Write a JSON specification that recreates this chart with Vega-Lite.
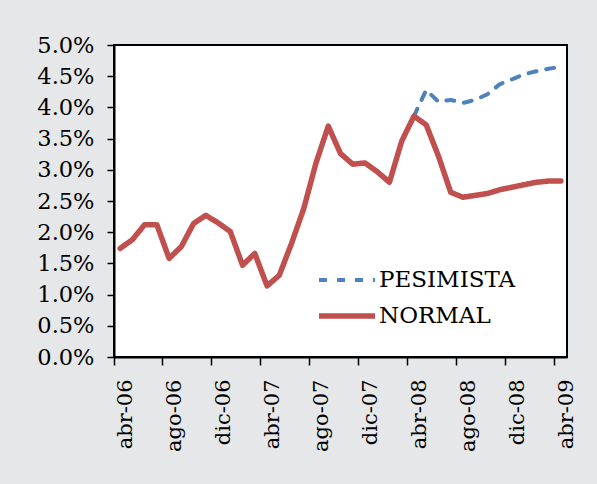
{
  "$schema": "https://vega.github.io/schema/vega-lite/v6.json",
  "width": 453,
  "height": 312,
  "autosize": {"type": "none"},
  "padding": {"left": 114, "top": 45, "right": 30, "bottom": 127},
  "background": "#e6e7e9",
  "config": {
    "view": {"stroke": "black", "strokeWidth": 2, "fill": "white"},
    "font": "DejaVu Serif"
  },
  "data": {"values": [
    {"m":"abr-08","s":"PESIMISTA","v":0.0386},
    {"m":"may-08","s":"PESIMISTA","v":0.0428},
    {"m":"jun-08","s":"PESIMISTA","v":0.0409},
    {"m":"jul-08","s":"PESIMISTA","v":0.0412},
    {"m":"ago-08","s":"PESIMISTA","v":0.0407},
    {"m":"sep-08","s":"PESIMISTA","v":0.0412},
    {"m":"oct-08","s":"PESIMISTA","v":0.0421},
    {"m":"nov-08","s":"PESIMISTA","v":0.0437},
    {"m":"dic-08","s":"PESIMISTA","v":0.0445},
    {"m":"ene-09","s":"PESIMISTA","v":0.0453},
    {"m":"feb-09","s":"PESIMISTA","v":0.0458},
    {"m":"mar-09","s":"PESIMISTA","v":0.0462},
    {"m":"abr-09","s":"PESIMISTA","v":0.0465},
    {"m":"abr-06","s":"NORMAL","v":0.0174},
    {"m":"may-06","s":"NORMAL","v":0.0188},
    {"m":"jun-06","s":"NORMAL","v":0.0212},
    {"m":"jul-06","s":"NORMAL","v":0.0212},
    {"m":"ago-06","s":"NORMAL","v":0.0158},
    {"m":"sep-06","s":"NORMAL","v":0.0177},
    {"m":"oct-06","s":"NORMAL","v":0.0214},
    {"m":"nov-06","s":"NORMAL","v":0.0227},
    {"m":"dic-06","s":"NORMAL","v":0.0215},
    {"m":"ene-07","s":"NORMAL","v":0.0201},
    {"m":"feb-07","s":"NORMAL","v":0.0147},
    {"m":"mar-07","s":"NORMAL","v":0.0166},
    {"m":"abr-07","s":"NORMAL","v":0.0114},
    {"m":"may-07","s":"NORMAL","v":0.0131},
    {"m":"jun-07","s":"NORMAL","v":0.0182},
    {"m":"jul-07","s":"NORMAL","v":0.0238},
    {"m":"ago-07","s":"NORMAL","v":0.0311},
    {"m":"sep-07","s":"NORMAL","v":0.0370},
    {"m":"oct-07","s":"NORMAL","v":0.0326},
    {"m":"nov-07","s":"NORMAL","v":0.0309},
    {"m":"dic-07","s":"NORMAL","v":0.0311},
    {"m":"ene-08","s":"NORMAL","v":0.0297},
    {"m":"feb-08","s":"NORMAL","v":0.0280},
    {"m":"mar-08","s":"NORMAL","v":0.0346},
    {"m":"abr-08","s":"NORMAL","v":0.0386},
    {"m":"may-08","s":"NORMAL","v":0.0372},
    {"m":"jun-08","s":"NORMAL","v":0.0322},
    {"m":"jul-08","s":"NORMAL","v":0.0264},
    {"m":"ago-08","s":"NORMAL","v":0.0256},
    {"m":"sep-08","s":"NORMAL","v":0.0259},
    {"m":"oct-08","s":"NORMAL","v":0.0262},
    {"m":"nov-08","s":"NORMAL","v":0.0268},
    {"m":"dic-08","s":"NORMAL","v":0.0272},
    {"m":"ene-09","s":"NORMAL","v":0.0276},
    {"m":"feb-09","s":"NORMAL","v":0.0280},
    {"m":"mar-09","s":"NORMAL","v":0.0282},
    {"m":"abr-09","s":"NORMAL","v":0.0282}
  ]},
  "mark": {"type": "line", "strokeCap": "round", "strokeJoin": "round"},
  "encoding": {
    "x": {
      "field": "m", "type": "ordinal",
      "sort": ["abr-06","may-06","jun-06","jul-06","ago-06","sep-06","oct-06","nov-06","dic-06","ene-07","feb-07","mar-07","abr-07","may-07","jun-07","jul-07","ago-07","sep-07","oct-07","nov-07","dic-07","ene-08","feb-08","mar-08","abr-08","may-08","jun-08","jul-08","ago-08","sep-08","oct-08","nov-08","dic-08","ene-09","feb-09","mar-09","abr-09"],
      "scale": {"type": "band", "paddingInner": 0, "paddingOuter": 0},
      "axis": {
        "title": null,
        "values": ["abr-06","ago-06","dic-06","abr-07","ago-07","dic-07","abr-08","ago-08","dic-08","abr-09"],
        "bandPosition": 0,
        "labelOffset": 6,
        "labelAngle": 270,
        "labelFont": "DejaVu Serif",
        "labelFontSize": 21,
        "labelColor": "black",
        "labelPadding": 14,
        "tickColor": "black",
        "tickSize": 8,
        "tickWidth": 1.5,
        "domainColor": "black",
        "domainWidth": 2,
        "grid": false
      }
    },
    "y": {
      "field": "v", "type": "quantitative",
      "scale": {"domain": [0, 0.05], "nice": false},
      "axis": {
        "title": null,
        "values": [0,0.005,0.01,0.015,0.02,0.025,0.03,0.035,0.04,0.045,0.05],
        "format": ".1%",
        "labelFont": "DejaVu Serif",
        "labelFontSize": 22.5,
        "labelColor": "black",
        "labelPadding": 13,
        "tickColor": "black",
        "tickSize": 7,
        "tickWidth": 1.5,
        "domainColor": "black",
        "domainWidth": 2,
        "grid": false
      }
    },
    "color": {
      "field": "s", "type": "nominal",
      "scale": {"domain": ["PESIMISTA","NORMAL"], "range": ["#4F81BD","#C0504D"]},
      "legend": {
        "title": null,
        "orient": "none",
        "legendX": 210,
        "legendY": 213,
        "symbolType": "M-1.4,0H1.4",
        "symbolSize": 1600,
        "labelFont": "DejaVu Serif",
        "labelFontSize": 23,
        "labelColor": "black",
        "labelOffset": 9,
        "rowPadding": 1
      }
    },
    "strokeDash": {
      "field": "s", "type": "nominal",
      "scale": {"domain": ["PESIMISTA","NORMAL"], "range": [[8,10],[1,0]]},
      "legend": null
    },
    "strokeWidth": {
      "field": "s", "type": "nominal",
      "scale": {"domain": ["PESIMISTA","NORMAL"], "range": [4,5.5]},
      "legend": null
    }
  }
}
